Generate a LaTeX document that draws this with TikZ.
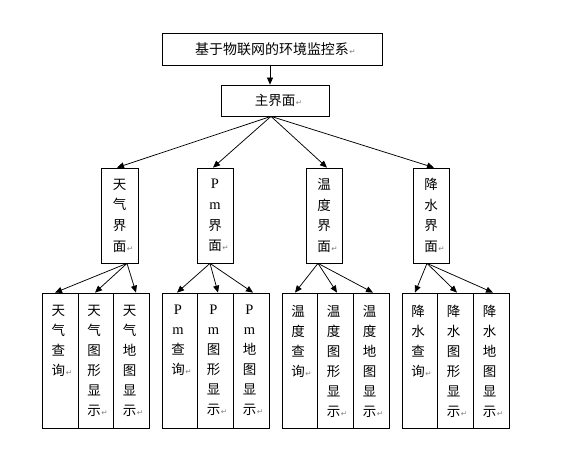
\documentclass[tikz,border=0pt]{standalone}
\usepackage{fontspec}
\newfontfamily\cjk{Noto Sans CJK SC}
\newfontfamily\lat{Liberation Serif}
\newfontfamily\dvs{DejaVu Sans}
\usetikzlibrary{arrows.meta}
\newcommand{\rmk}{\rlap{\hspace{0.5pt}\textcolor{gray}{\dvs\fontsize{7.5}{7.5}\selectfont ↵}}}
\newcommand{\PM}{{\lat\fontsize{14.5}{20}\selectfont P}\\{\lat\fontsize{14.5}{20}\selectfont m}}
\tikzset{
  box/.style={draw, line width=0.75pt, inner sep=0pt},
  lvtwo/.style={box, minimum height=95, align=center, font=\cjk\fontsize{13.5}{20.7}\selectfont},
  lvthree/.style={box, minimum height=135},
  vtext/.style={anchor=north, inner sep=0pt, align=center, font=\cjk\fontsize{13.5}{20}\selectfont},
  arr/.style={line width=0.75pt, -{Triangle[length=7pt,width=6pt]}}
}
\begin{document}
\begin{tikzpicture}[x=1pt, y=-1pt]
\fill[white] (0,0) rectangle (566,476);
\useasboundingbox (0,0) rectangle (566,476);
% top
\node[box, minimum width=220, minimum height=32, font=\cjk\fontsize{14}{14}\selectfont] (top) at (272,49) {基于物联网的环境监控系\rmk};
\node[box, minimum width=108, minimum height=31, font=\cjk\fontsize{13.5}{14}\selectfont] (main) at (275,100.5) {主界面\rmk};
\draw[arr] ([xshift=-2]top.south) -- ([xshift=-2]top.south |- main.north);
% level 2
\node[lvtwo, minimum width=37] (w) at (119.5,215.5) {天\\气\\界\\面\rmk};
\node[lvtwo, minimum width=36] (p) at (215,215.5) {\PM\\界\\面\rmk};
\node[lvtwo, minimum width=36] (t) at (324,215.5) {温\\度\\界\\面\rmk};
\node[lvtwo, minimum width=36] (j) at (431,215.5) {降\\水\\界\\面\rmk};
\draw[arr] ([xshift=-4]main.south) -- ([xshift=-2.5]w.north);
\draw[arr] ([xshift=-4]main.south) -- ([xshift=-2]p.north);
\draw[arr] ([xshift=-4]main.south) -- ([xshift=3]t.north);
\draw[arr] ([xshift=-4]main.south) -- ([xshift=3]j.north);
% level 3 boxes
\node[lvthree, minimum width=36] (w1) at (60,360.5) {};
\node[lvthree, minimum width=35] (w2) at (95.5,360.5) {};
\node[lvthree, minimum width=36] (w3) at (131,360.5) {};
\node[lvthree, minimum width=35] (p1) at (179.5,360.5) {};
\node[lvthree, minimum width=36] (p2) at (215,360.5) {};
\node[lvthree, minimum width=36] (p3) at (251,360.5) {};
\node[lvthree, minimum width=35] (t1) at (299.5,360.5) {};
\node[lvthree, minimum width=36] (t2) at (335,360.5) {};
\node[lvthree, minimum width=36] (t3) at (371,360.5) {};
\node[lvthree, minimum width=35] (j1) at (419.5,360.5) {};
\node[lvthree, minimum width=36] (j2) at (455,360.5) {};
\node[lvthree, minimum width=36] (j3) at (491,360.5) {};
% level 3 texts
\node[vtext] (w1t) at ([xshift=-1.5,yshift=-12.5]w1.north) {天\\气\\查\\询\rmk};
\node[vtext] (w2t) at ([xshift=-1.5,yshift=-12.5]w2.north) {天\\气\\图\\形\\显\\示\rmk};
\node[vtext] (w3t) at ([xshift=-1.5,yshift=-12.5]w3.north) {天\\气\\地\\图\\显\\示\rmk};
\node[vtext] (p1t) at ([xshift=-1.5,yshift=-12.5]p1.north) {\PM\\查\\询\rmk};
\node[vtext] (p2t) at ([xshift=-1.5,yshift=-12.5]p2.north) {\PM\\图\\形\\显\\示\rmk};
\node[vtext] (p3t) at ([xshift=-1.5,yshift=-12.5]p3.north) {\PM\\地\\图\\显\\示\rmk};
\node[vtext] (t1t) at ([xshift=-1.5,yshift=-12.5]t1.north) {温\\度\\查\\询\rmk};
\node[vtext] (t2t) at ([xshift=-1.5,yshift=-12.5]t2.north) {温\\度\\图\\形\\显\\示\rmk};
\node[vtext] (t3t) at ([xshift=-1.5,yshift=-12.5]t3.north) {温\\度\\地\\图\\显\\示\rmk};
\node[vtext] (j1t) at ([xshift=-1.5,yshift=-12.5]j1.north) {降\\水\\查\\询\rmk};
\node[vtext] (j2t) at ([xshift=-1.5,yshift=-12.5]j2.north) {降\\水\\图\\形\\显\\示\rmk};
\node[vtext] (j3t) at ([xshift=-1.5,yshift=-12.5]j3.north) {降\\水\\地\\图\\显\\示\rmk};
% level 3 arrows
\draw[arr] ([xshift=7.5]w.south) -- ([xshift=-5]w1.north);
\draw[arr] ([xshift=7.5]w.south) -- ([xshift=-0.5]w2.north);
\draw[arr] ([xshift=7.5]w.south) -- ([xshift=5]w3.north);
\draw[arr] ([xshift=-5]p.south) -- ([xshift=-2.5]p1.north);
\draw[arr] ([xshift=-5]p.south) -- ([xshift=3]p2.north);
\draw[arr] ([xshift=-5]p.south) -- ([xshift=2]p3.north);
\draw[arr] ([xshift=-6]t.south) -- ([xshift=-4.5]t1.north);
\draw[arr] ([xshift=-6]t.south) -- ([xshift=2]t2.north);
\draw[arr] ([xshift=-6]t.south) -- ([xshift=2]t3.north);
\draw[arr] ([xshift=-4]j.south) -- ([xshift=-4.5]j1.north);
\draw[arr] ([xshift=-4]j.south) -- ([xshift=2]j2.north);
\draw[arr] ([xshift=-4]j.south) -- ([xshift=2]j3.north);
\end{tikzpicture}
\end{document}
